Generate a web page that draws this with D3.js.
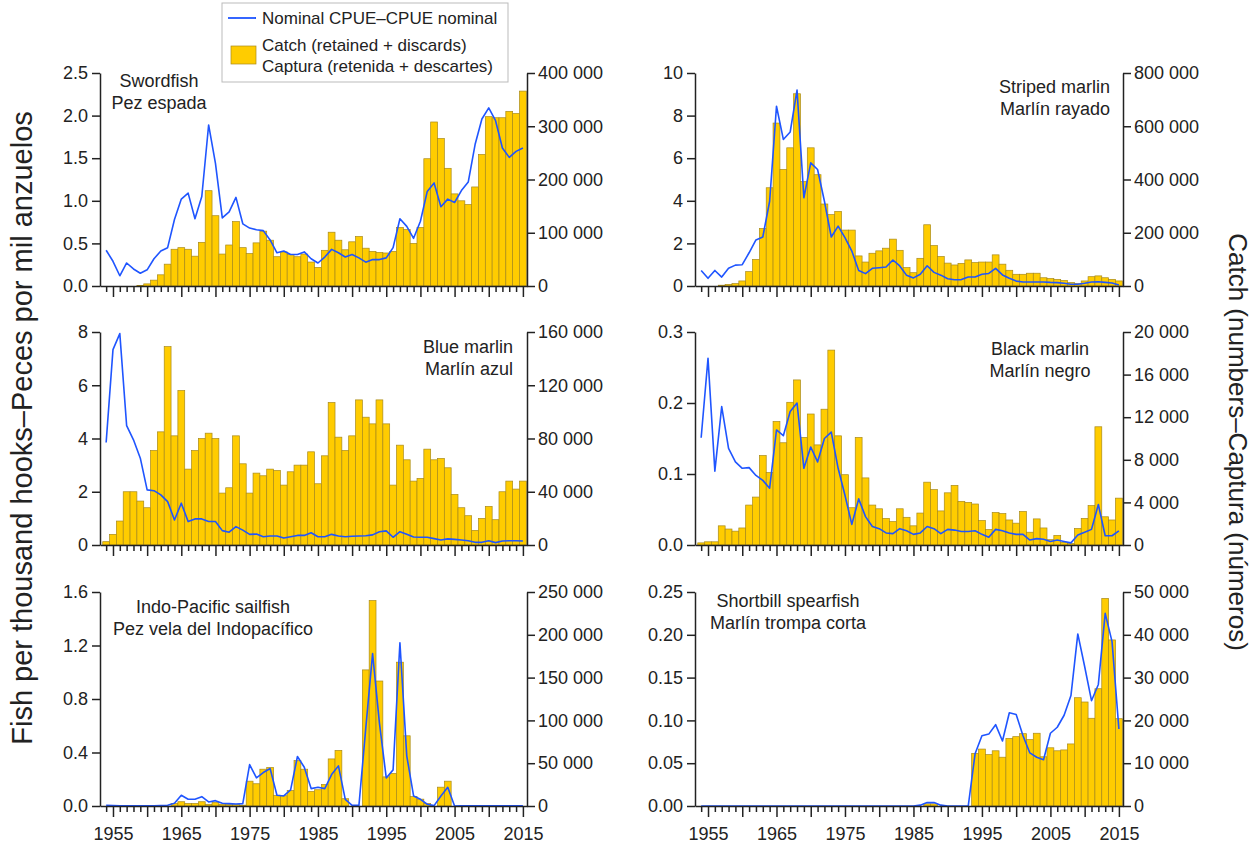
<!DOCTYPE html>
<html>
<head>
<meta charset="utf-8">
<script src="https://cdn.jsdelivr.net/npm/d3@7"></script>
<style>
  body { margin: 0; background: #fff; }
  svg { font-family: "Liberation Sans", Arial, sans-serif; }
</style>
</head>
<body>
<svg id="chart" width="1258" height="850"></svg>
<script>
// one value per year, 1954..2015
const years = d3.range(1954, 2016);

// Swordfish / Pez espada
const swoCatch = [0,0,0,0,0,1,4,11,21,41,69,72,69,56,82,179,132,60,77,121,72,61,81,103,86,55,64,59,55,60,45,35,67,101,86,68,83,93,71,65,63,62,65,110,106,80,110,239,308,277,221,173,160,153,186,247,318,316,316,328,324,366].map(v => v * 1000);
const swoCpue = [0.42,0.29,0.12,0.27,0.20,0.15,0.19,0.32,0.41,0.45,0.78,1.02,1.09,0.79,1.05,1.89,1.44,0.80,0.87,1.04,0.73,0.68,0.66,0.65,0.54,0.39,0.41,0.37,0.37,0.40,0.32,0.27,0.34,0.43,0.39,0.34,0.37,0.33,0.28,0.31,0.31,0.33,0.45,0.79,0.70,0.56,0.76,1.11,1.21,0.93,1.02,0.98,1.12,1.22,1.66,1.96,2.09,1.94,1.62,1.51,1.58,1.62];

// Striped marlin / Marlín rayado
const mlsCatch = [0,0,0,3,6,9,19,54,100,216,369,612,438,519,722,392,519,418,308,268,280,210,210,113,90,123,132,142,176,134,69,50,104,230,152,111,86,79,85,98,88,90,90,117,82,59,44,44,48,48,31,28,25,21,13,10,19,35,38,31,25,19].map(v => v * 1000);
const mlsCpue = [0.73,0.36,0.73,0.42,0.83,0.98,1.00,1.56,2.16,2.30,3.98,8.44,6.88,7.23,9.20,4.14,5.78,5.47,3.98,2.30,2.81,2.27,1.64,0.73,0.58,0.83,0.86,0.89,1.22,0.94,0.50,0.38,0.55,0.95,0.64,0.51,0.34,0.29,0.30,0.42,0.42,0.55,0.59,0.83,0.52,0.36,0.23,0.19,0.19,0.19,0.19,0.17,0.16,0.13,0.08,0.08,0.13,0.19,0.20,0.17,0.14,0.05];

// Blue marlin / Marlín azul
const bumCatch = [2.5,8,18,40,40,33,28,71,85,149,82,116,57,71,80,84,80,39,43,82,61,39,54,52,57,56,45,55,60,60,70,46,67,107,81,71,82,109,96,91,109,91,45,75,64,48,50,72,64,65,58,38,28,22,11,20,29,19,40,48,42,48].map(v => v * 1000);
const bumCpue = [3.85,7.34,7.94,4.48,3.95,3.26,2.07,2.04,1.88,1.63,0.94,1.57,0.88,0.98,0.98,0.88,0.88,0.54,0.48,0.69,0.56,0.40,0.41,0.31,0.34,0.34,0.26,0.31,0.36,0.36,0.46,0.31,0.31,0.40,0.34,0.31,0.33,0.34,0.35,0.38,0.50,0.53,0.29,0.50,0.40,0.30,0.29,0.29,0.24,0.19,0.23,0.21,0.19,0.16,0.10,0.10,0.16,0.09,0.15,0.16,0.16,0.15];

// Black marlin / Marlín negro
const blmCatch = [0.2,0.3,0.3,1.8,1.5,1.3,1.6,3.75,4.5,8.4,6.8,11.6,9.6,13.4,15.5,10.1,12.3,9.4,12.75,18.3,10.25,6.6,3.5,10.1,6.3,3.75,3.4,2.5,2.2,3.4,2.6,1.8,3.0,5.9,5.2,3.2,4.9,5.6,4.1,4.0,3.85,2.3,1.45,3.05,2.95,2.35,2.05,3.15,1.2,2.45,1.6,0.5,0.9,0.25,0.15,1.55,2.5,3.7,11.1,2.65,2.35,4.4].map(v => v * 1000);
const blmCpue = [0.151,0.263,0.104,0.195,0.136,0.117,0.108,0.109,0.098,0.091,0.080,0.162,0.154,0.188,0.200,0.108,0.138,0.117,0.150,0.159,0.108,0.070,0.029,0.065,0.040,0.026,0.023,0.017,0.016,0.023,0.020,0.015,0.017,0.026,0.023,0.016,0.022,0.021,0.019,0.019,0.020,0.015,0.011,0.022,0.020,0.017,0.015,0.015,0.007,0.009,0.008,0.005,0.007,0.005,0.003,0.014,0.018,0.022,0.057,0.013,0.013,0.020];

// Indo-Pacific sailfish / Pez vela del Indopacífico
const sfaCatch = [0,0,0,0,0,0,0,0,0,0,3,5,3,3,5,2,4,2,2,2,1,29,26,43,45,12.5,12,18,53,43,17,19,25,55,65,8.5,0,0,159,240,146,34,38,168,82,11,8,3,0,22,29,0,0,0,0,0,0,0,0,0,0,0].map(v => v * 1000);
const sfaCpue = [0.005,0.003,0.002,0.002,0.002,0.002,0.002,0.002,0.003,0.005,0.02,0.08,0.05,0.05,0.07,0.03,0.04,0.02,0.018,0.015,0.018,0.31,0.21,0.25,0.28,0.08,0.075,0.12,0.37,0.29,0.13,0.14,0.13,0.235,0.30,0.05,0.005,0.005,0.58,1.14,0.62,0.21,0.27,1.22,0.375,0.075,0.05,0.013,0.003,0.075,0.14,0.0,0.002,0.002,0.002,0.002,0.002,0.002,0.002,0.002,0.002,0.002];

// Shortbill spearfish / Marlín trompa corta
const sspCatch = [0,0,0,0,0,0,0,0,0,0,0,0,0,0,0,0,0,0,0,0,0,0,0,0,0,0,0,0,0,0,0,0,0,0.5,0.5,0,0,0,0,0,12.3,13.3,12,12.9,11.4,15.8,16.2,16.9,15.5,17,11.5,13.6,12.9,13.1,14.5,25.3,24.3,20.5,27.4,48.5,38.8,20.4].map(v => v * 1000);
const sspCpue = [0,0,0,0,0,0,0,0,0,0,0,0,0,0,0,0,0,0,0,0,0,0,0,0,0,0,0,0,0,0,0,0,0.001,0.004,0.004,0.001,0,0,0,0,0.061,0.082,0.084,0.095,0.076,0.109,0.107,0.082,0.062,0.057,0.054,0.085,0.092,0.106,0.129,0.201,0.163,0.123,0.142,0.225,0.192,0.09];

// tick labels
const swoLeftTicks = [0, 0.5, 1, 1.5, 2, 2.5];
const swoRightTicks = [0, 100000, 200000, 300000, 400000];
const mlsLeftTicks = [0, 2, 4, 6, 8, 10];
const mlsRightTicks = [0, 200000, 400000, 600000, 800000];
const bumLeftTicks = [0, 2, 4, 6, 8];
const bumRightTicks = [0, 40000, 80000, 120000, 160000];
const blmLeftTicks = [0, 0.1, 0.2, 0.3];
const blmRightTicks = [0, 4000, 8000, 12000, 16000, 20000];
const sfaLeftTicks = [0, 0.4, 0.8, 1.2, 1.6];
const sfaRightTicks = [0, 50000, 100000, 150000, 200000, 250000];
const sspLeftTicks = [0, 0.05, 0.1, 0.15, 0.2, 0.25];
const sspRightTicks = [0, 10000, 20000, 30000, 40000, 50000];
const yearLabels = [1955, 1965, 1975, 1985, 1995, 2005, 2015];

const legendLabels = ["Nominal CPUE\u2013CPUE nominal", "Catch (retained + discards)", "Captura (retenida + descartes)"];
const leftTitle = "Fish per thousand hooks\u2013Peces por mil anzuelos";
const rightTitle = "Catch (numbers\u2013Captura (n\u00fameros)";

const panels = [
  { names: ["Swordfish", "Pez espada"], catchV: swoCatch, cpue: swoCpue, lt: swoLeftTicks, rt: swoRightTicks, lfmt: ".1f", col: 0, row: 0, lab: { x: 159, y: 81, anchor: "middle" } },
  { names: ["Striped marlin", "Marl\u00edn rayado"], catchV: mlsCatch, cpue: mlsCpue, lt: mlsLeftTicks, rt: mlsRightTicks, lfmt: "d", col: 1, row: 0, lab: { x: 1110, y: 87, anchor: "end" } },
  { names: ["Blue marlin", "Marl\u00edn azul"], catchV: bumCatch, cpue: bumCpue, lt: bumLeftTicks, rt: bumRightTicks, lfmt: "d", col: 0, row: 1, lab: { x: 513, y: 347, anchor: "end" } },
  { names: ["Black marlin", "Marl\u00edn negro"], catchV: blmCatch, cpue: blmCpue, lt: blmLeftTicks, rt: blmRightTicks, lfmt: ".1f", col: 1, row: 1, lab: { x: 1040, y: 349, anchor: "middle" } },
  { names: ["Indo-Pacific sailfish", "Pez vela del Indopac\u00edfico"], catchV: sfaCatch, cpue: sfaCpue, lt: sfaLeftTicks, rt: sfaRightTicks, lfmt: ".1f", col: 0, row: 2, lab: { x: 213, y: 607, anchor: "middle" } },
  { names: ["Shortbill spearfish", "Marl\u00edn trompa corta"], catchV: sspCatch, cpue: sspCpue, lt: sspLeftTicks, rt: sspRightTicks, lfmt: ".2f", col: 1, row: 2, lab: { x: 788, y: 601, anchor: "middle" } },
];

const colX = [[100, 527], [695, 1123]];
const rowY = [[286, 73], [545, 332], [806, 592]];
const barFill = "#ffcc00", barStroke = "#a88a1a", lineColor = "#1f55ff", axisColor = "#222";

const svg = d3.select("#chart");
const spaceFmt = v => d3.format(",")(v).replace(/,/g, " ");

panels.forEach(p => {
  const [x0, x1] = colX[p.col];
  const [yb, yt] = rowY[p.row];
  const x = d3.scaleLinear().domain([1953.1, 2015.6]).range([x0, x1]);
  const yL = d3.scaleLinear().domain([0, d3.max(p.lt)]).range([yb, yt]);
  const yR = d3.scaleLinear().domain([0, d3.max(p.rt)]).range([yb, yt]);
  const g = svg.append("g");
  const bw = x(1) - x(0);

  const data = years.map((yr, i) => ({ year: yr, c: p.catchV[i], u: p.cpue[i] }));

  g.selectAll("rect.bar").data(data.filter(d => d.c > 0)).join("rect")
    .attr("class", "bar")
    .attr("x", d => x(d.year - 0.5))
    .attr("y", d => yR(d.c))
    .attr("width", bw)
    .attr("height", d => yR(0) - yR(d.c))
    .attr("fill", barFill)
    .attr("stroke", barStroke)
    .attr("stroke-width", 0.7);

  g.append("path").datum(data)
    .attr("fill", "none")
    .attr("stroke", lineColor)
    .attr("stroke-width", 1.6)
    .attr("stroke-linejoin", "round")
    .attr("d", d3.line().x(d => x(d.year)).y(d => yL(d.u)));

  const styleAxis = sel => {
    sel.select(".domain").attr("stroke", axisColor).attr("stroke-width", 1.5);
    sel.selectAll(".tick line").attr("stroke", axisColor).attr("stroke-width", 1.5);
    sel.selectAll("text").attr("font-size", 18).attr("fill", "#222");
  };

  g.append("g").attr("transform", `translate(${x0},0)`)
    .call(d3.axisLeft(yL).tickValues(p.lt).tickFormat(d3.format(p.lfmt)).tickSize(8).tickSizeOuter(0).tickPadding(4))
    .call(styleAxis);
  g.append("g").attr("transform", `translate(${x1},0)`)
    .call(d3.axisRight(yR).tickValues(p.rt).tickFormat(spaceFmt).tickSize(8).tickSizeOuter(0).tickPadding(3))
    .call(styleAxis);

  // bottom axis: minor yearly ticks, longer every 5 years, labels every 10 on the last row
  const minor = d3.range(1954, 2016).filter(v => v % 5 !== 0);
  const major = d3.range(1955, 2016, 5);
  g.append("g").attr("transform", `translate(0,${yb})`)
    .call(d3.axisBottom(x).tickValues(minor).tickFormat("").tickSize(6).tickSizeOuter(0))
    .call(styleAxis);
  g.append("g").attr("transform", `translate(0,${yb})`)
    .call(d3.axisBottom(x).tickValues(major).tickSize(11).tickSizeOuter(0).tickPadding(10)
      .tickFormat(d => (p.row === 2 && yearLabels.includes(d)) ? d : ""))
    .call(styleAxis)
    .call(a => a.select(".domain").remove());

  const t = g.append("text").attr("font-size", 18).attr("fill", "#222").attr("text-anchor", p.lab.anchor);
  p.names.forEach((n, i) => t.append("tspan").attr("x", p.lab.x).attr("y", p.lab.y + i * 22).attr("dy", "0.35em").text(n));
});

// axis titles
svg.append("text").attr("transform", "translate(22,428) rotate(-90)")
  .attr("text-anchor", "middle").attr("dy", "0.35em").attr("font-size", 29).attr("fill", "#222").text(leftTitle);
svg.append("text").attr("transform", "translate(1238,442) rotate(90)")
  .attr("text-anchor", "middle").attr("dy", "0.35em").attr("font-size", 26).attr("fill", "#222").text(rightTitle);

// legend
const lg = svg.append("g");
lg.append("rect").attr("x", 222).attr("y", 3).attr("width", 286).attr("height", 79)
  .attr("fill", "#fff").attr("stroke", "#bbb").attr("stroke-width", 1);
lg.append("line").attr("x1", 228).attr("x2", 256).attr("y1", 18).attr("y2", 18)
  .attr("stroke", lineColor).attr("stroke-width", 1.8);
lg.append("rect").attr("x", 231).attr("y", 46).attr("width", 25).attr("height", 18)
  .attr("fill", barFill).attr("stroke", barStroke).attr("stroke-width", 0.7);
legendLabels.forEach((s, i) => {
  lg.append("text").attr("x", 262).attr("y", [18, 45, 66][i]).attr("dy", "0.35em")
    .attr("font-size", 17).attr("fill", "#222").text(s);
});
</script>
</body>
</html>
